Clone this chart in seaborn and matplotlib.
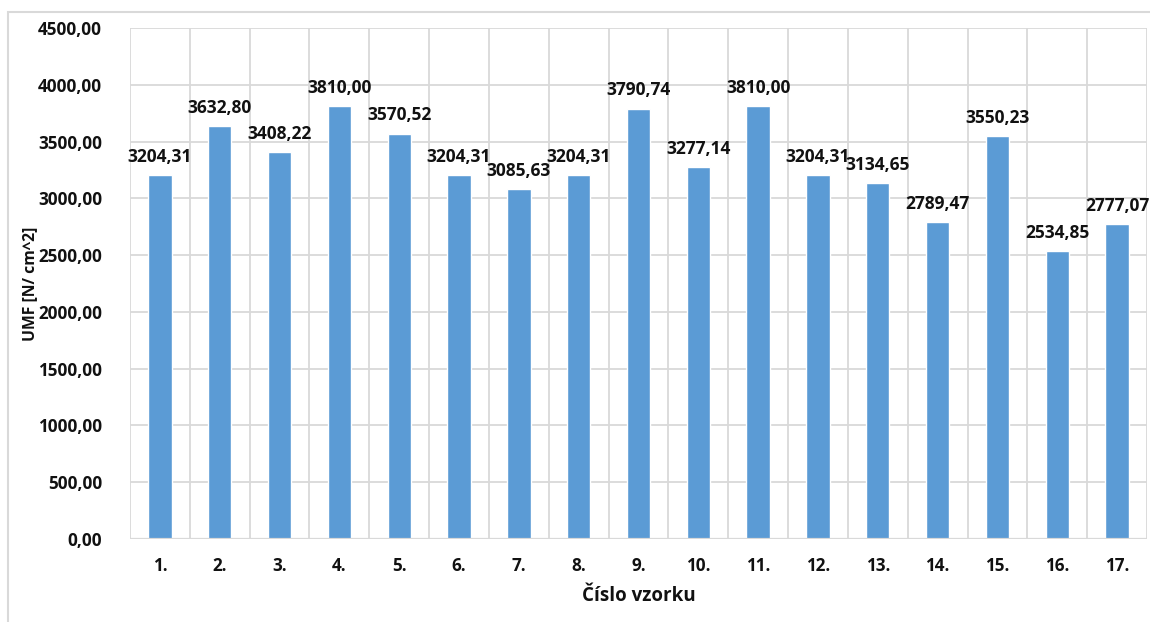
import matplotlib
matplotlib.use("Agg")
import matplotlib.pyplot as plt
import seaborn as sns
import pandas as pd
from matplotlib.patches import Rectangle

# Sample numbers and measured UMF values
samples = [f"{i}." for i in range(1, 18)]
umf = [3204.31, 3632.80, 3408.22, 3810.00, 3570.52, 3204.31, 3085.63, 3204.31,
       3790.74, 3277.14, 3810.00, 3204.31, 3134.65, 2789.47, 3550.23, 2534.85, 2777.07]
y_ticks = [0, 500, 1000, 1500, 2000, 2500, 3000, 3500, 4000, 4500]

df = pd.DataFrame({"vzorek": samples, "umf": umf})

sns.set_theme(style="white")
plt.rcParams["font.family"] = ["Open Sans", "DejaVu Sans"]
plt.rcParams["font.weight"] = "bold"

W, H = 1150, 622
txt_c = "#111111"
fig = plt.figure(figsize=(W / 100, H / 100), dpi=100)
ax = fig.add_axes([130 / W, 1 - 539 / H, (1147 - 130) / W, (539 - 28) / H])

sns.barplot(data=df, x="vzorek", y="umf", color="#5B9BD5", saturation=1,
            width=0.39, ax=ax, zorder=3)

grid_c = "#D9D9D9"
ax.set_ylim(0, 4500)
ax.set_xlim(-0.5, len(samples) - 0.5)
ax.set_yticks(y_ticks)
ax.set_yticklabels([f"{v:.2f}".replace(".", ",") for v in y_ticks],
                   fontsize=12.3, fontweight="bold", color=txt_c)
ax.set_xticks(range(len(samples)))
ax.set_xticklabels(samples, fontsize=12.3, fontweight="bold", color=txt_c)
ax.tick_params(axis="both", length=0)
ax.tick_params(axis="y", pad=20)
ax.tick_params(axis="x", pad=13)

# horizontal and vertical gridlines (vertical ones between categories)
ax.yaxis.grid(True, color=grid_c, lw=1.3, zorder=0)
for b in range(len(samples) + 1):
    ax.axvline(b - 0.5, color=grid_c, lw=1.3, zorder=0)
for s in ax.spines.values():
    s.set_visible(False)
ax.axhline(0, color=grid_c, lw=1.6, zorder=4)

for i, v in enumerate(umf):
    ax.text(i, v + 80, f"{v:.2f}".replace(".", ","), ha="center", va="bottom",
            fontsize=12.5, fontweight="bold", color=txt_c, zorder=5)

ax.set_xlabel("Číslo vzorku", fontsize=13.5, fontweight="bold", color=txt_c, labelpad=8)
ax.set_ylabel("UMF [N/ cm^2]", fontsize=11.3, fontweight="bold", color=txt_c, labelpad=0)

# light frame around the chart area
fig.patches.append(Rectangle((8 / W, -0.1), 1.2, 1 - 12 / H + 0.1,
                             transform=fig.transFigure, fill=False,
                             edgecolor=grid_c, lw=1.5))

fig.savefig("out.png", dpi=100, facecolor="white")
